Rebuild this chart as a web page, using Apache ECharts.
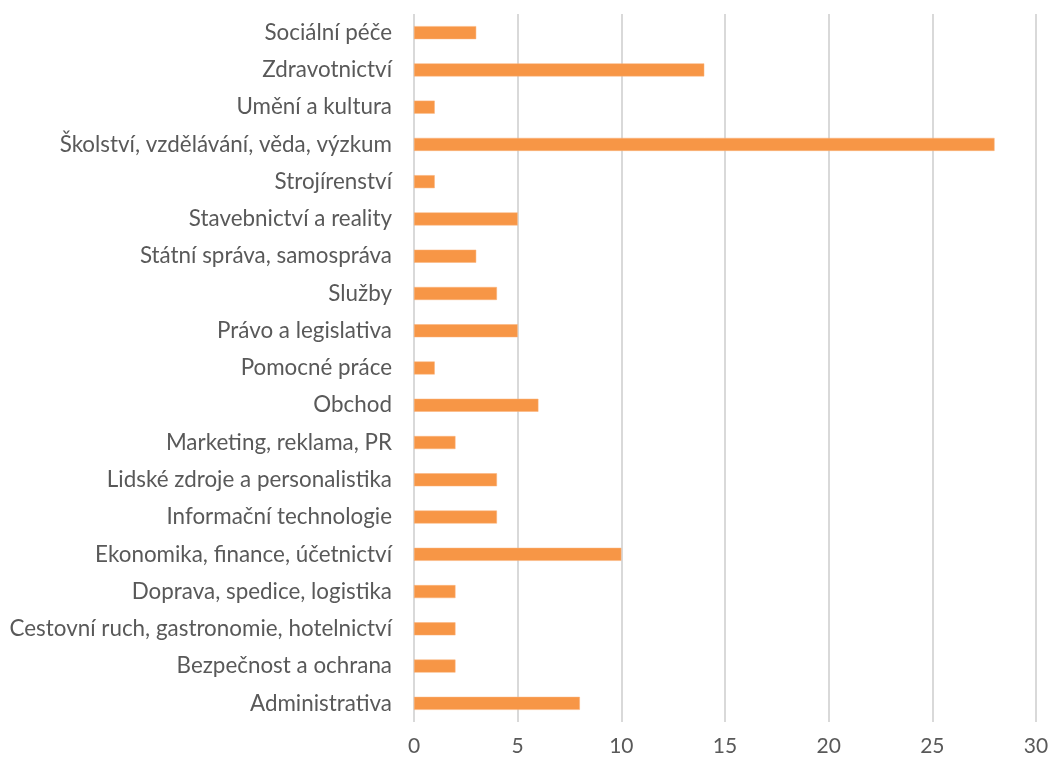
<!DOCTYPE html>
<html><head><meta charset="utf-8">
<script src="https://cdn.jsdelivr.net/npm/echarts@6/dist/echarts.min.js"></script>
<style>html,body{margin:0;padding:0;background:#fff}#c{width:1053px;height:764px}</style>
</head><body><div id="c"></div>
<script>
const categories = ["Administrativa","Bezpečnost a ochrana","Cestovní ruch, gastronomie, hotelnictví","Doprava, spedice, logistika","Ekonomika, finance, účetnictví","Informační technologie","Lidské zdroje a personalistika","Marketing, reklama, PR","Obchod","Pomocné práce","Právo a legislativa","Služby","Státní správa, samospráva","Stavebnictví a reality","Strojírenství","Školství, vzdělávání, věda, výzkum","Umění a kultura","Zdravotnictví","Sociální péče"];
const values = [8,2,2,2,10,4,4,2,6,1,5,4,3,5,1,28,1,14,3];
const chart = echarts.init(document.getElementById('c'));
chart.setOption({
  animation:false,
  grid:{left:414,right:17,top:14,bottom:42,containLabel:false},
  xAxis:{type:'value',min:0,max:30,interval:5,
    axisLine:{show:false},axisTick:{show:false},
    splitLine:{lineStyle:{color:'#d9d9d9',width:2}},
    axisLabel:{color:'#595959',fontSize:21,fontFamily:'Lato',margin:14}},
  yAxis:{type:'category',data:categories,
    axisLine:{show:false},axisTick:{show:false},
    axisLabel:{color:'#595959',fontSize:22.4,fontFamily:'Lato',margin:22}},
  series:[{type:'bar',data:values,barWidth:13,
    itemStyle:{color:'#F79646',borderColor:'#fbb27a',borderWidth:0.5}}]
});
</script></body></html>
